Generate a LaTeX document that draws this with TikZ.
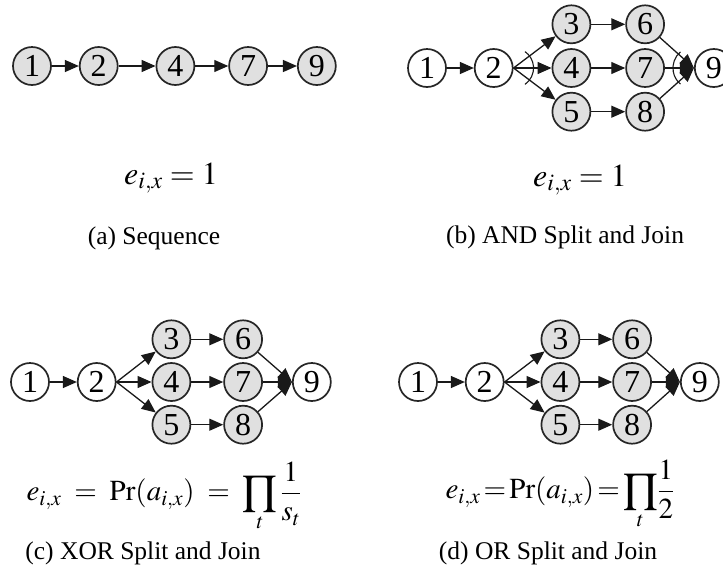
\documentclass[tikz,border=0pt]{standalone}
\usepackage{mathptmx}
\usepackage[no-math]{fontspec}
\setmainfont{Liberation Serif}
\usetikzlibrary{positioning, arrows.meta}

\begin{document}
\begin{tikzpicture}[
        x=1pt, y=-1pt,
        task/.style={circle, draw=black!85, line width=1.7pt, fill=black!12, minimum size=38pt, inner sep=0pt, font=\fontsize{32}{34}\selectfont},
        gate/.style={task, fill=white},
        arrow/.style={-{Triangle[length=14pt, width=12pt]}, line width=1.3pt, draw=black!90},
        marker/.style={line width=1.1pt, draw=black!90},
        formula/.style={font=\fontsize{32}{36}\selectfont},
        caption/.style={font=\fontsize{25.5}{28}\selectfont}
    ]
    \useasboundingbox (0,0) rectangle (723,574);

    % (a) Sequence
    \node[task] at (32,66) (a1) {1};
    \node[task, right=27pt of a1] (a2) {2};
    \node[task, right=37pt of a2] (a4) {4};
    \node[task, right=33pt of a4] (a7) {7};
    \node[task, right=29pt of a7] (a9) {9};

    \draw[arrow] (a1) -- (a2);
    \draw[arrow] (a2) -- (a4);
    \draw[arrow] (a4) -- (a7);
    \draw[arrow] (a7) -- (a9);

    \node[formula] at (171,178) (fa) {$e_{i,x} = 1$};
    \node[caption] at (154,238) (ca) {(a) Sequence};

    % (b) AND split and join
    \node[gate] at (427,68) (b1) {1};
    \node[gate, right=27pt of b1] (b2) {2};
    \node[task, right=38pt of b2] (b4) {4};
    \node[task, above=4pt of b4] (b3) {3};
    \node[task, below=4pt of b4] (b5) {5};
    \node[task, right=34pt of b4] (b7) {7};
    \node[task, above=4pt of b7] (b6) {6};
    \node[task, below=4pt of b7] (b8) {8};
    \node[gate, right=29pt of b7] (b9) {9};

    \draw[arrow] (b1) -- (b2);
    \draw[arrow] (b2.east) -- (b3);
    \draw[arrow] (b2.east) -- (b4);
    \draw[arrow] (b2.east) -- (b5);
    \draw[arrow] (b3) -- (b6);
    \draw[arrow] (b4) -- (b7);
    \draw[arrow] (b5) -- (b8);
    \draw[arrow] (b6) -- (b9.west);
    \draw[arrow] (b7) -- (b9.west);
    \draw[arrow] (b8) -- (b9.west);

    % AND arcs
    \draw[marker] ([shift={(-55:20pt)}]b2.east) arc[start angle=-55, end angle=55, radius=20pt];
    \draw[marker] ([shift={(130:21pt)}]b9.west) arc[start angle=130, end angle=230, radius=21pt];

    \node[formula] at (580,180) (fb) {$e_{i,x} = 1$};
    \node[caption] at (565,237) (cb) {(b) AND Split and Join};

    % (c) XOR split and join
    \node[gate] at (30,382) (c1) {1};
    \node[gate, right=27pt of c1] (c2) {2};
    \node[task, right=35pt of c2] (c4) {4};
    \node[task, above=3pt of c4] (c3) {3};
    \node[task, below=3pt of c4] (c5) {5};
    \node[task, right=32pt of c4] (c7) {7};
    \node[task, above=3pt of c7] (c6) {6};
    \node[task, below=3pt of c7] (c8) {8};
    \node[gate, right=29pt of c7] (c9) {9};

    \draw[arrow] (c1) -- (c2);
    \draw[arrow] (c2.east) -- (c3);
    \draw[arrow] (c2.east) -- (c4);
    \draw[arrow] (c2.east) -- (c5);
    \draw[arrow] (c3) -- (c6);
    \draw[arrow] (c4) -- (c7);
    \draw[arrow] (c5) -- (c8);
    \draw[arrow] (c6) -- (c9.west);
    \draw[arrow] (c7) -- (c9.west);
    \draw[arrow] (c8) -- (c9.west);

    \node[formula, font=\fontsize{29}{33}\selectfont] at (164,497) (fc) {$\displaystyle e_{i,x} \;=\; \Pr(a_{i,x}) \;=\; \prod_t \frac{1}{s_t}$};
    \node[caption] at (143,553) (cc) {(c) XOR Split and Join};

    % (d) OR split and join
    \node[gate] at (418,382) (d1) {1};
    \node[gate, right=27pt of d1] (d2) {2};
    \node[task, right=36pt of d2] (d4) {4};
    \node[task, above=3pt of d4] (d3) {3};
    \node[task, below=3pt of d4] (d5) {5};
    \node[task, right=32pt of d4] (d7) {7};
    \node[task, above=3pt of d7] (d6) {6};
    \node[task, below=3pt of d7] (d8) {8};
    \node[gate, right=28pt of d7] (d9) {9};

    \draw[arrow] (d1) -- (d2);
    \draw[arrow] (d2.east) -- (d3);
    \draw[arrow] (d2.east) -- (d4);
    \draw[arrow] (d2.east) -- (d5);
    \draw[arrow] (d3) -- (d6);
    \draw[arrow] (d4) -- (d7);
    \draw[arrow] (d5) -- (d8);
    \draw[arrow] (d6) -- (d9.west);
    \draw[arrow] (d7) -- (d9.west);
    \draw[arrow] (d8) -- (d9.west);

    \node[formula, font=\fontsize{29}{33}\selectfont] at (560,495) (fd) {$\displaystyle e_{i,x}\!=\!\Pr(a_{i,x})\!=\!\prod_t\!\frac{1}{2}$};
    \node[caption] at (548,553) (cd) {(d) OR Split and Join};

\end{tikzpicture}
\end{document}
